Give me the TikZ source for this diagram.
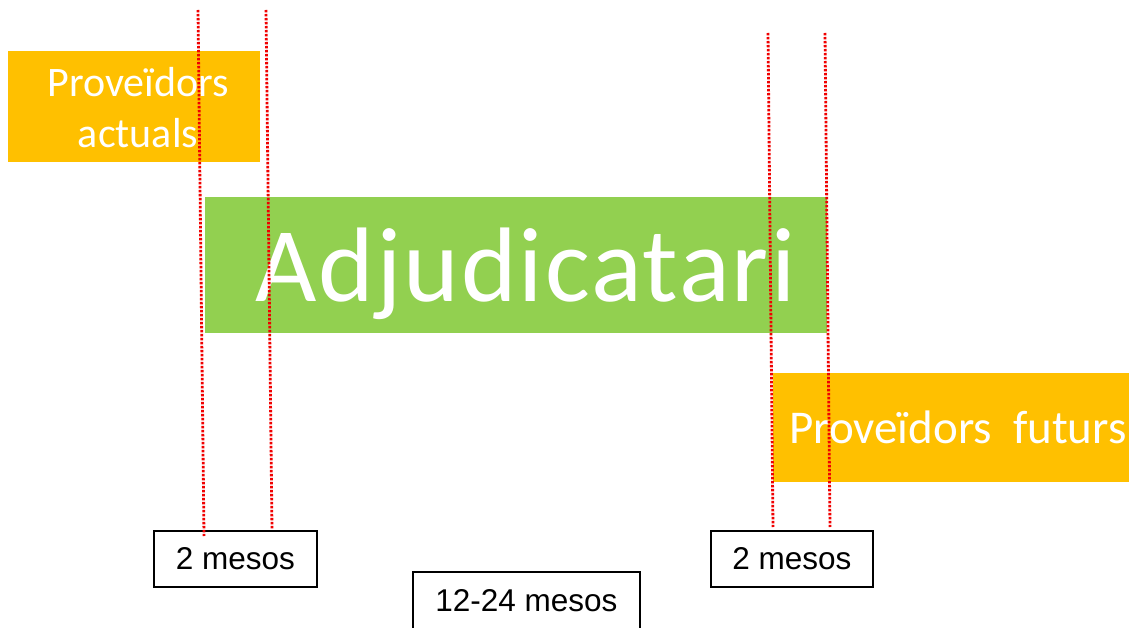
\documentclass[tikz,border=0pt]{standalone}
\usepackage{fontspec}
\setmainfont{Carlito}
\newfontfamily\arialfont{Liberation Sans}
\usetikzlibrary{calc}
\usetikzlibrary{positioning}
\definecolor{BoxOrange}{HTML}{FFC000}
\definecolor{BoxGreen}{HTML}{92D050}
\definecolor{DotRed}{HTML}{F00000}
\tikzset{
  phase/.style={fill=BoxOrange, text=white, inner sep=0pt, anchor=north west},
  phasetext/.style={text=white, inner sep=0pt, anchor=base west},
  term/.style={draw=black, line width=1.8pt, fill=white, inner sep=0pt, anchor=north west,
    font=\arialfont\fontsize{31.5}{34}\selectfont},
  marker/.style={DotRed, line width=2.8pt, dash pattern=on 2.4pt off 1.6pt}
}

\begin{document}
\begin{tikzpicture}[x=1pt,y=-1pt]
  \useasboundingbox (0,0) rectangle (1129,628);

  % the three phases
  \node[phase, minimum width=252pt, minimum height=111pt] (actuals) at (8,51) {};
  \node[phasetext, anchor=center, align=center, font=\fontsize{42}{51}\selectfont]
    (actualsText) at (138,108) {Proveïdors\\actuals};
  \node[phase, fill=BoxGreen, minimum width=622pt, minimum height=136pt] (adjud) at (205,197) {};
  \node[phasetext, font=\fontsize{106}{110}\selectfont\addfontfeature{LetterSpace=1.9}]
    (adjudText) at (255,301) {Adjudicatari};
  \node[phase, minimum width=356pt, minimum height=109pt] (futurs) at (773,373) {};
  \node[phasetext, font=\fontsize{47}{50}\selectfont]
    (futursText) at (789,443) {Proveïdors\hspace{21pt}futurs};

  % durations
  \node[term, minimum width=163pt, minimum height=56pt] (mesA) at (153,530) {2 mesos};
  \node[term, minimum width=162pt, minimum height=56pt] (mesB) at (710,530) {2 mesos};
  \node[term, minimum width=227pt, minimum height=58pt] (mesC) at (412,571) {12-24 mesos};

  % transition markers
  \coordinate (topA) at (198,10);
  \coordinate (topB) at (266,10);
  \coordinate (topC) at (768,33);
  \coordinate (topD) at (825,33);
  \draw[marker] (topA) -- ($(mesA.north west)+(51,6)$);
  \draw[marker] (topB) -- ($(mesA.north west)+(119,-1)$);
  \draw[marker] (topC) -- ($(mesB.north west)+(63,-3)$);
  \draw[marker] (topD) -- ($(mesB.north west)+(120,-3)$);

\end{tikzpicture}
\end{document}
